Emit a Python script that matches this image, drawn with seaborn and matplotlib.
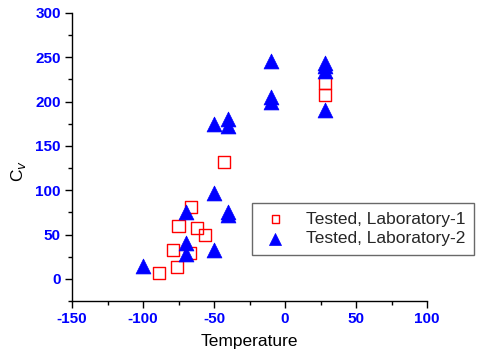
import matplotlib
matplotlib.use("Agg")
import matplotlib.pyplot as plt
import seaborn as sns
import pandas as pd
from matplotlib.ticker import MultipleLocator

lab1_temp = [-43, -66, -75, -62, -56, -79, -67, -76, -89, 28, 28]
lab1_cv = [132, 81, 60, 57, 50, 32, 29, 13, 7, 221, 207]
lab2_temp = [-10, -10, -10, -50, -40, -40, 28, 28, 28, 28, -50, -40, -40, -70, -70, -70, -50, -100]
lab2_cv = [246, 205, 200, 175, 180, 173, 244, 240, 235, 191, 97, 75, 72, 75, 41, 28, 33, 15]

df1 = pd.DataFrame({"Temperature": lab1_temp, "Cv": lab1_cv})
df2 = pd.DataFrame({"Temperature": lab2_temp, "Cv": lab2_cv})

sns.set_style("ticks")
plt.rcParams['font.family'] = ['Liberation Sans', 'DejaVu Sans']
plt.rcParams['axes.unicode_minus'] = False

fig = plt.figure(figsize=(4.8, 3.6), dpi=100)
ax = fig.add_axes([0.15, 0.1639, 0.7396, 0.8])

sns.scatterplot(data=df1, x="Temperature", y="Cv", ax=ax, marker="s", s=75,
                facecolor="none", edgecolor="red", linewidth=1.0,
                label="Tested, Laboratory-1", zorder=3)
sns.scatterplot(data=df2, x="Temperature", y="Cv", ax=ax, marker="^", s=115,
                color="blue", edgecolor="blue", linewidth=0.5,
                label="Tested, Laboratory-2", zorder=3)

ax.set_xlim(-150, 100)
ax.set_ylim(-25, 300)
ax.xaxis.set_major_locator(MultipleLocator(50))
ax.xaxis.set_minor_locator(MultipleLocator(25))
ax.yaxis.set_major_locator(MultipleLocator(50))
ax.yaxis.set_minor_locator(MultipleLocator(25))
ax.tick_params(which="major", direction="out", length=5, width=1, color="black",
               labelsize=11, labelcolor="blue", pad=3)
ax.tick_params(which="minor", direction="out", length=3, width=1, color="black")
for lab in ax.get_xticklabels() + ax.get_yticklabels():
    lab.set_fontweight("bold")
for sp in ["top", "right"]:
    ax.spines[sp].set_visible(False)
for sp in ["left", "bottom"]:
    ax.spines[sp].set_color("black")
    ax.spines[sp].set_linewidth(1)

ax.set_xlabel("Temperature", fontsize=12.5, color="black", labelpad=6)
ax.set_ylabel("C$_v$", fontsize=12.5, color="black")
ax.yaxis.set_label_coords(-0.125, 0.45)

leg = ax.legend(loc="upper left", bbox_to_anchor=(252/480, 1-203/360),
                bbox_transform=fig.transFigure, frameon=True, fancybox=False,
                fontsize=12.5, handletextpad=0.9, handlelength=1.7,
                borderpad=0.5, labelspacing=0.25, borderaxespad=0)
leg.get_frame().set_edgecolor("#444444")
leg.get_frame().set_linewidth(1)
hs = leg.legend_handles
hs[0].set_sizes([30])
hs[1].set_sizes([75])

fig.savefig("out.png", dpi=100)
